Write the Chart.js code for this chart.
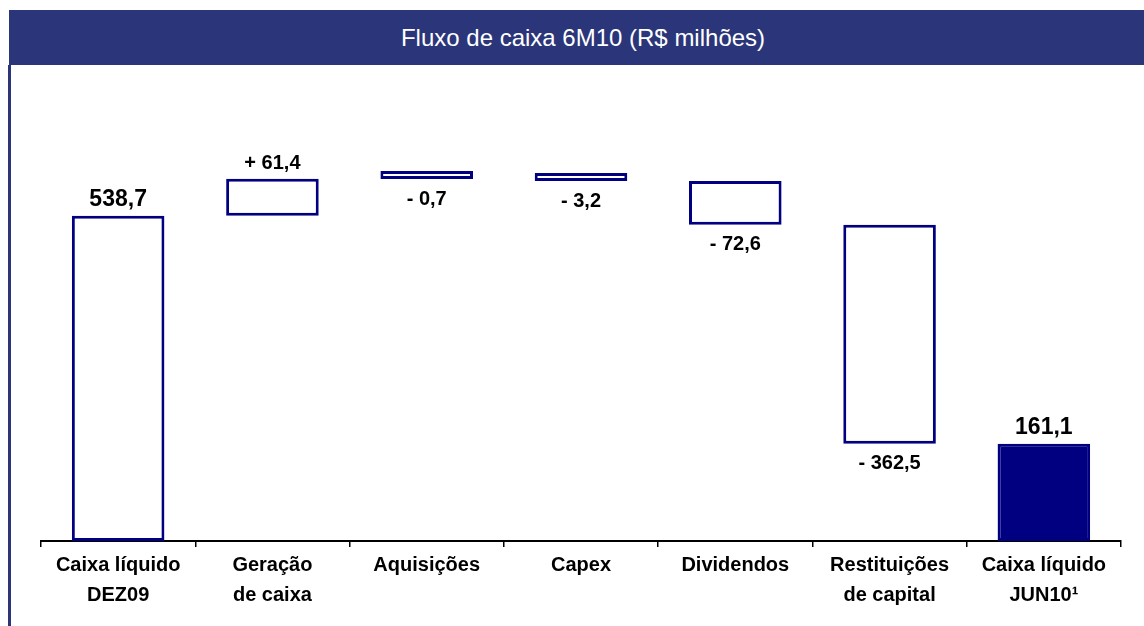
<!DOCTYPE html>
<html lang="pt-BR">
<head>
<meta charset="utf-8">
<title>Fluxo de caixa 6M10</title>
<script src="https://cdn.jsdelivr.net/npm/chart.js@4/dist/chart.umd.min.js"></script>
<style>
  body { margin: 0; background: #fff; font-family: "Liberation Sans", Arial, sans-serif; }
  #titulo {
    position: absolute; left: 9px; top: 10px; width: 1135px; height: 55px; box-sizing: border-box; padding-left: 13px;
    background: #2b3579; color: #fff; font-size: 24px; line-height: 55px; text-align: center;
  }
  #linhaEsquerda { position: absolute; left: 8px; top: 65px; width: 3px; height: 561px; background: #2b3579; }
  #caixa { position: absolute; left: 0; top: 0; width: 1144px; height: 626px; }
</style>
</head>
<body>
<div id="titulo">Fluxo de caixa 6M10 (R$ milhões)</div>
<div id="linhaEsquerda"></div>
<div id="caixa"><canvas id="graficoFluxo"></canvas></div>
<script>
// categorias do eixo x (duas linhas quando necessário)
const categorias = [
  ["Caixa líquido", "DEZ09"],
  ["Geração", "de caixa"],
  "Aquisições",
  "Capex",
  "Dividendos",
  ["Restituições", "de capital"],
  ["Caixa líquido", "JUN10¹"]
];
// saldo inicial, variações e saldo final (R$ milhões)
const saldoInicial = 538.7;
const variacoes = [61.4, -0.7, -3.2, -72.6, -362.5];
const saldoFinal = 161.1;

// monta as barras flutuantes da cascata
const barras = [[0, saldoInicial]];
const textos = [saldoInicial.toFixed(1).replace(".", ",")];
let acumulado = saldoInicial;
variacoes.forEach((v) => {
  const novo = Math.round((acumulado + v) * 10) / 10;
  barras.push([Math.min(acumulado, novo), Math.max(acumulado, novo)]);
  textos.push((v >= 0 ? "+ " : "- ") + Math.abs(v).toFixed(1).replace(".", ","));
  acumulado = novo;
});
barras.push([0, saldoFinal]);
textos.push(saldoFinal.toFixed(1).replace(".", ","));

const tipos = ["total", ...variacoes.map((v) => (v >= 0 ? "sobe" : "desce")), "total"];
const azul = "#000080";

// plugin que escreve os valores acima ou abaixo de cada barra
const rotulos = {
  id: "rotulos",
  afterDatasetsDraw(chart) {
    const ctx = chart.ctx;
    const meta = chart.getDatasetMeta(0);
    ctx.save();
    ctx.fillStyle = "#000";
    ctx.textAlign = "center";
    meta.data.forEach((bar, i) => {
      const topo = Math.min(bar.y, bar.base);
      const fundo = Math.max(bar.y, bar.base);
      if (tipos[i] === "total") {
        ctx.font = "bold 23px 'Liberation Sans', Arial, sans-serif";
        ctx.textBaseline = "bottom";
        ctx.fillText(textos[i], bar.x, topo - 5);
      } else if (tipos[i] === "sobe") {
        ctx.font = "bold 20px 'Liberation Sans', Arial, sans-serif";
        ctx.textBaseline = "bottom";
        ctx.fillText(textos[i], bar.x, topo - 5);
      } else {
        ctx.font = "bold 20px 'Liberation Sans', Arial, sans-serif";
        ctx.textBaseline = "top";
        ctx.fillText(textos[i], bar.x, fundo + 10);
      }
    });
    ctx.restore();
  }
};

const graficoFluxo = new Chart(document.getElementById("graficoFluxo"), {
  type: "bar",
  data: {
    labels: categorias,
    datasets: [{
      data: barras,
      backgroundColor: tipos.map((t, i) => (i === tipos.length - 1 ? azul : "#fff")),
      borderColor: azul,
      borderWidth: 3,
      borderSkipped: false,
      minBarLength: 8,
      categoryPercentage: 1,
      barPercentage: 0.6
    }]
  },
  options: {
    responsive: true,
    maintainAspectRatio: false,
    animation: false,
    layout: { padding: { left: 41, right: 23, top: 70, bottom: 13 } },
    plugins: { legend: { display: false }, tooltip: { enabled: false } },
    scales: {
      x: {
        grid: { display: true, drawOnChartArea: false, drawTicks: true, tickLength: 6, color: "#000", lineWidth: 1.5 },
        border: { display: true, color: "#000", width: 2 },
        ticks: {
          color: "#000",
          padding: 3,
          maxRotation: 0,
          autoSkip: false,
          font: { family: "'Liberation Sans', Arial, sans-serif", size: 20, weight: "bold", lineHeight: 1.5 }
        }
      },
      y: { display: false, min: 0, max: 780 }
    }
  },
  plugins: [rotulos]
});
</script>
</body>
</html>
